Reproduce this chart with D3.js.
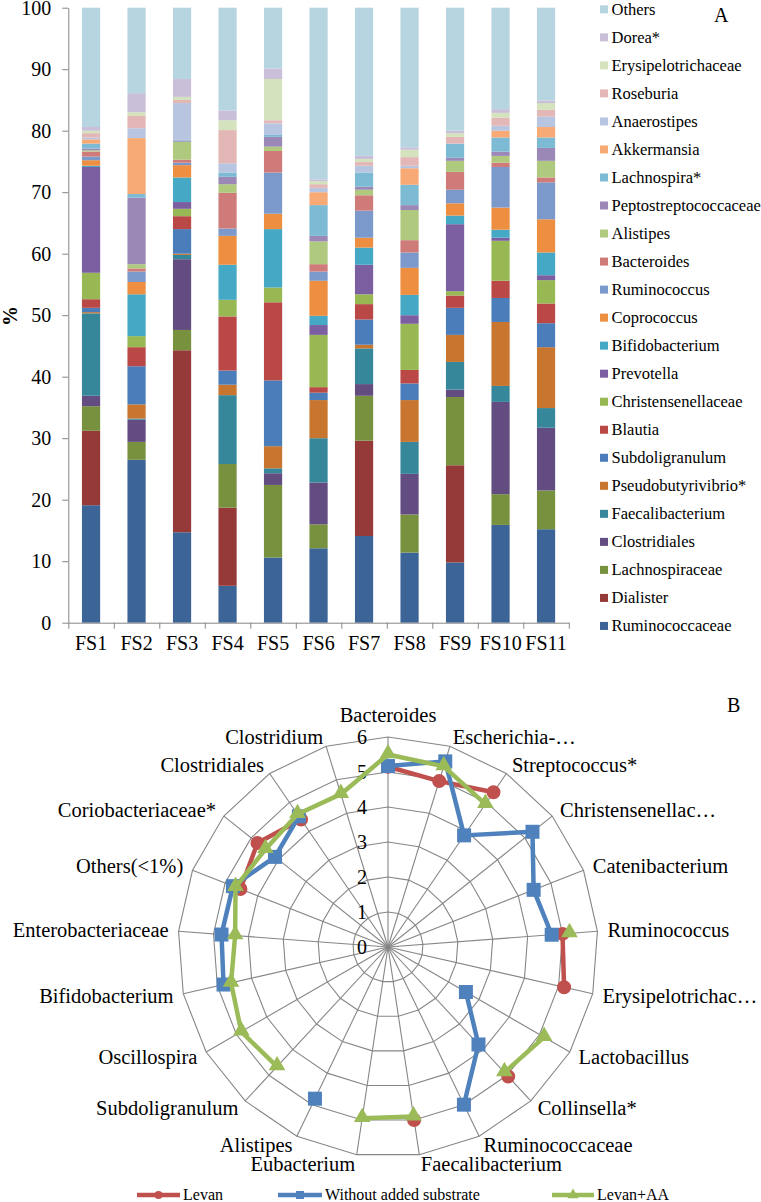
<!DOCTYPE html>
<html><head><meta charset="utf-8">
<script src="https://cdn.jsdelivr.net/npm/d3@7"></script>
<style>
body{margin:0;background:#fff}
svg{display:block}
text{font-family:"Liberation Serif","Times New Roman",serif;fill:#000}
</style>
</head><body>
<svg id="chart" width="761" height="1202"></svg>
<script>
// ---------- Panel A data ----------
const samples = ["FS1","FS2","FS3","FS4","FS5","FS6","FS7","FS8","FS9","FS10","FS11"];
const yTicks = [0,10,20,30,40,50,60,70,80,90,100];
// taxa, bottom of stack to top
const taxa = ["Ruminococcaceae","Dialister","Lachnospiraceae","Clostridiales","Faecalibacterium","Pseudobutyrivibrio*","Subdoligranulum","Blautia","Christensenellaceae","Prevotella","Bifidobacterium","Coprococcus","Ruminococcus","Bacteroides","Alistipes","Peptostreptococcaceae","Lachnospira*","Akkermansia","Anaerostipes","Roseburia","Erysipelotrichaceae","Dorea*","Others"];
const taxonColors = ["#3c6496","#953a39","#77913f","#634c80","#37879b","#c7752f","#4a7dba","#ba4846","#97b853","#7c5fa0","#45a8c4","#ee8e40","#7c99cb","#cf7b79","#afc97e","#9b88b7","#7cbbd3","#f8aa76","#b8c5e0","#e3b7b6","#d4e2bd","#c9bfd8","#b7d5e1"];

const ruminococcaceae     = [19.1,26.5,14.7, 6.0,10.6,12.1,14.1,11.4, 9.8,15.9,15.2];
const dialister           = [12.1, 0.0,29.6,12.7, 0.0, 0.0,15.5, 0.0,15.8, 0.0, 0.0];
const lachnospiraceae     = [ 4.0, 2.9, 3.3, 7.1,11.8, 3.9, 7.3, 6.2,11.1, 5.0, 6.3];
const clostridiales       = [ 1.7, 3.6,11.5, 0.0, 1.9, 6.8, 1.9, 6.6, 1.2,15.0,10.2];
const faecalibacterium    = [13.4, 0.2, 0.7,11.2, 0.8, 7.2, 5.8, 5.2, 4.5, 2.6, 3.2];
const pseudobutyrivibrio  = [ 0.2, 2.3, 0.2, 1.7, 3.6, 6.2, 0.6, 6.8, 4.4,10.4, 9.9];
const subdoligranulum     = [ 0.7, 6.2, 4.0, 2.3,10.7, 1.2, 4.1, 2.7, 4.4, 3.9, 3.9];
const blautia             = [ 1.4, 3.1, 2.1, 8.8,12.7, 0.9, 2.5, 2.2, 2.0, 2.8, 3.2];
const christensenellaceae = [ 4.3, 1.8, 1.2, 2.7, 2.4, 8.5, 1.6, 7.5, 0.7, 6.5, 3.8];
const prevotella          = [17.2, 0.0, 1.1, 0.0, 0.0, 1.6, 4.8, 1.4,10.9, 0.5, 0.8];
const bifidobacterium     = [ 0.2, 6.8, 4.0, 5.7, 9.5, 1.5, 2.8, 3.3, 1.4, 1.3, 3.7];
const coprococcus         = [ 0.9, 2.0, 2.0, 4.7, 2.5, 5.7, 1.6, 4.4, 2.0, 3.6, 5.4];
const ruminococcus        = [ 0.6, 1.7, 0.4, 1.2, 6.7, 1.5, 4.4, 2.5, 2.2, 6.6, 6.0];
const bacteroides         = [ 0.8, 0.5, 0.5, 5.8, 3.5, 1.2, 2.5, 2.0, 2.9, 0.7, 0.8];
const alistipes           = [ 0.2, 0.7, 2.9, 1.4, 0.7, 3.7, 0.9, 4.9, 1.8, 1.1, 2.7];
const peptostreptococcaceae=[ 0.3,10.8, 0.2, 1.2, 1.6, 0.9, 0.5, 0.8, 0.5, 0.7, 2.1];
const lachnospira         = [ 0.8, 0.6, 0.1, 0.7, 0.3, 5.0, 2.3, 3.3, 2.3, 2.3, 1.7];
const akkermansia         = [ 0.7, 9.1, 0.0, 0.0, 0.0, 2.1, 0.0, 2.7, 0.0, 1.1, 1.7];
const anaerostipes        = [ 0.3, 1.6, 6.0, 1.5, 1.9, 0.7, 1.1, 0.4, 0.0, 0.8, 1.7];
const roseburia           = [ 0.7, 2.0, 0.5, 5.4, 0.5, 0.6, 0.6, 1.4, 1.1, 1.3, 1.1];
const erysipelotrichaceae = [ 0.4, 0.6, 0.5, 1.6, 6.7, 0.5, 0.5, 1.2, 0.6, 0.8, 1.1];
const dorea               = [ 0.6, 3.1, 2.9, 1.6, 1.7, 0.3, 0.5, 0.4, 0.4, 0.6, 0.4];
const others              = [19.4,13.9,11.6,16.7, 9.9,27.9,24.1,22.7,20.0,16.5,15.1];

const seriesValues = [ruminococcaceae,dialister,lachnospiraceae,clostridiales,faecalibacterium,pseudobutyrivibrio,subdoligranulum,blautia,christensenellaceae,prevotella,bifidobacterium,coprococcus,ruminococcus,bacteroides,alistipes,peptostreptococcaceae,lachnospira,akkermansia,anaerostipes,roseburia,erysipelotrichaceae,dorea,others];

// ---------- Panel B data ----------
const radarCategories = ["Bacteroides","Escherichia-…","Streptococcus*","Christensenellac…","Catenibacterium","Ruminococcus","Erysipelotrichac…","Lactobacillus","Collinsella*","Ruminococcaceae","Faecalibacterium","Eubacterium","Alistipes","Subdoligranulum","Oscillospira","Bifidobacterium","Enterobacteriaceae","Others(<1%)","Coriobacteriaceae*","Clostridiales","Clostridium"];
const radarTicks = [0,1,2,3,4,5,6];
const levan            = [5.15,4.96,5.35,null,null,5.0,5.16,null,5.05,null,5.0,null,null,null,null,null,null,4.53,4.77,4.41,null];
const withoutSubstrate = [5.17,5.55,3.86,5.28,4.47,4.69,null,2.57,3.8,5.0,null,null,4.81,null,null,4.82,4.77,4.76,4.13,4.52,null];
const levanAA          = [5.5,5.4,4.94,null,null,5.2,null,5.15,4.89,null,4.9,4.95,null,4.66,4.84,4.6,4.38,4.68,4.48,4.59,4.57];
const radarSeriesNames = ["Levan","Without added substrate","Levan+AA"];
const radarColors = ["#c0504d","#4f81bd","#9bbb59"];

const svg = d3.select("#chart");
const GRID = "#868686";

// ================= Panel A =================
const table = samples.map((s,i)=>{
  const row = {sample:s};
  taxa.forEach((t,k)=>{ row[t] = seriesValues[k][i]; });
  return row;
});
const stack = d3.stack().keys(taxa)(table);

const x = d3.scaleBand().domain(samples).range([68.3,568.8]).paddingInner(0.6).paddingOuter(0.3);
const y = d3.scaleLinear().domain([0,100]).range([622.7,7.7]);

const gA = svg.append("g");
gA.selectAll("g.layer").data(stack).join("g").attr("class","layer")
  .attr("fill",(d,k)=>taxonColors[k])
  .selectAll("rect").data(d=>d).join("rect")
  .attr("x",d=>x(d.data.sample))
  .attr("width",x.bandwidth())
  .attr("y",d=>y(d[1]))
  .attr("height",d=>Math.max(0,y(d[0])-y(d[1])));

// y axis
const yAxis = gA.append("g").attr("transform","translate(68.3,0)")
  .call(d3.axisLeft(y).tickValues(yTicks).tickSize(6).tickPadding(11).tickSizeOuter(0));
yAxis.select(".domain").attr("stroke",GRID);
yAxis.selectAll(".tick line").attr("stroke",GRID);
yAxis.selectAll(".tick text").attr("font-size",20).attr("font-family","Liberation Serif").attr("fill","#000").attr("dy","0.33em");

// x axis: boundary ticks
const xb = d3.scaleLinear().domain([0,samples.length]).range(x.range());
const xAxisB = gA.append("g").attr("transform","translate(0,622.7)")
  .call(d3.axisBottom(xb).tickValues(d3.range(samples.length+1)).tickSize(6).tickFormat("").tickSizeOuter(0));
xAxisB.select(".domain").attr("stroke",GRID);
xAxisB.selectAll(".tick line").attr("stroke",GRID);
const xAxisL = gA.append("g").attr("transform","translate(0,622.7)")
  .call(d3.axisBottom(x).tickSize(0).tickPadding(14));
xAxisL.select(".domain").remove();
xAxisL.selectAll(".tick text").attr("font-size",20).attr("font-family","Liberation Serif").attr("fill","#000").attr("dy","0.66em");

// y title
gA.append("text").attr("transform","translate(17,316) rotate(-90)")
  .attr("text-anchor","middle").attr("font-size",20).attr("font-weight","bold").text("%");

// legend
const legendTaxa = taxa.map((t,k)=>({t,k})).reverse();
const lg = gA.append("g");
legendTaxa.forEach((d,i)=>{
  const cy = 9.3 + i*28.03;
  lg.append("rect").attr("x",600).attr("y",cy-4).attr("width",8).attr("height",8).attr("fill",taxonColors[d.k]);
  lg.append("text").attr("x",611.5).attr("y",cy).attr("dy","0.33em").attr("font-size",16.5).text(d.t);
});
gA.append("text").attr("x",714).attr("y",22).attr("font-size",20).text("A");

// ================= Panel B =================
const cx = 388, cy = 947;
const N = radarCategories.length;
const r = d3.scaleLinear().domain([0,6]).range([0,210]);
const ang = i => i*2*Math.PI/N;
const gB = svg.append("g").attr("transform",`translate(${cx},${cy})`);

// rings
const ringLine = d3.lineRadial().angle((d,i)=>ang(i)).radius(d=>r(d)).curve(d3.curveLinearClosed);
radarTicks.filter(t=>t>0).forEach(t=>{
  gB.append("path").attr("d",ringLine(d3.range(N).map(()=>t))).attr("fill","none").attr("stroke",GRID).attr("stroke-width",1.1);
});
// spokes
radarCategories.forEach((c,i)=>{
  const p = d3.pointRadial(ang(i), r(6));
  gB.append("line").attr("x1",0).attr("y1",0).attr("x2",p[0]).attr("y2",p[1]).attr("stroke",GRID).attr("stroke-width",1.1);
});
// tick labels
radarTicks.forEach(t=>{
  gB.append("text").attr("x",-21).attr("y",-r(t)).attr("dy","0.33em").attr("text-anchor","end").attr("font-size",20).text(t);
});
// category labels
radarCategories.forEach((c,i)=>{
  const a = ang(i);
  const p = d3.pointRadial(a, r(6)+10);
  const s = Math.sin(a);
  const t = gB.append("text").attr("x",p[0]).attr("font-size",20.5).text(c);
  if (Math.abs(s) < 0.05) { t.attr("text-anchor","middle").attr("y",p[1]-5); }
  else { t.attr("text-anchor", s>0 ? "start":"end").attr("y",p[1]).attr("dy","0.33em"); }
});

// series
const radarData = [levan, withoutSubstrate, levanAA];
const symbols = [d3.symbolCircle, d3.symbolSquare, d3.symbolTriangle];
const symSizes = [154, 196, 120];
const seriesLine = d3.lineRadial()
  .defined(d=>d.v!=null)
  .angle(d=>ang(d.i))
  .radius(d=>r(d.v));
radarData.forEach((vals,s)=>{
  const pts = vals.map((v,i)=>({v,i}));
  const closed = pts.concat([{v:pts[0].v,i:N}]);
  gB.append("path").attr("d",seriesLine(closed)).attr("fill","none")
    .attr("stroke",radarColors[s]).attr("stroke-width",4.5).attr("stroke-linejoin","round");
  pts.filter(d=>d.v!=null).forEach(d=>{
    const p = d3.pointRadial(ang(d.i), r(d.v));
    gB.append("path").attr("d",d3.symbol(symbols[s],symSizes[s])())
      .attr("transform",`translate(${p[0]},${p[1]+(s===2?-1:0)})`).attr("fill",radarColors[s]);
  });
});
svg.append("text").attr("x",727).attr("y",712).attr("font-size",20).text("B");

// radar legend
const legendItems = [
  {x1:137,x2:180,tx:183},
  {x1:278,x2:322,tx:325},
  {x1:552,x2:594,tx:597}
];
legendItems.forEach((L,s)=>{
  const ly = 1195;
  svg.append("line").attr("x1",L.x1).attr("x2",L.x2).attr("y1",ly).attr("y2",ly)
    .attr("stroke",radarColors[s]).attr("stroke-width",4.5);
  svg.append("path").attr("d",d3.symbol(symbols[s],[50,64,55][s])())
    .attr("transform",`translate(${(L.x1+L.x2)/2},${ly})`).attr("fill",radarColors[s]);
  svg.append("text").attr("x",L.tx).attr("y",ly).attr("dy","0.33em").attr("font-size",16).text(radarSeriesNames[s]);
});
</script>
</body></html>
